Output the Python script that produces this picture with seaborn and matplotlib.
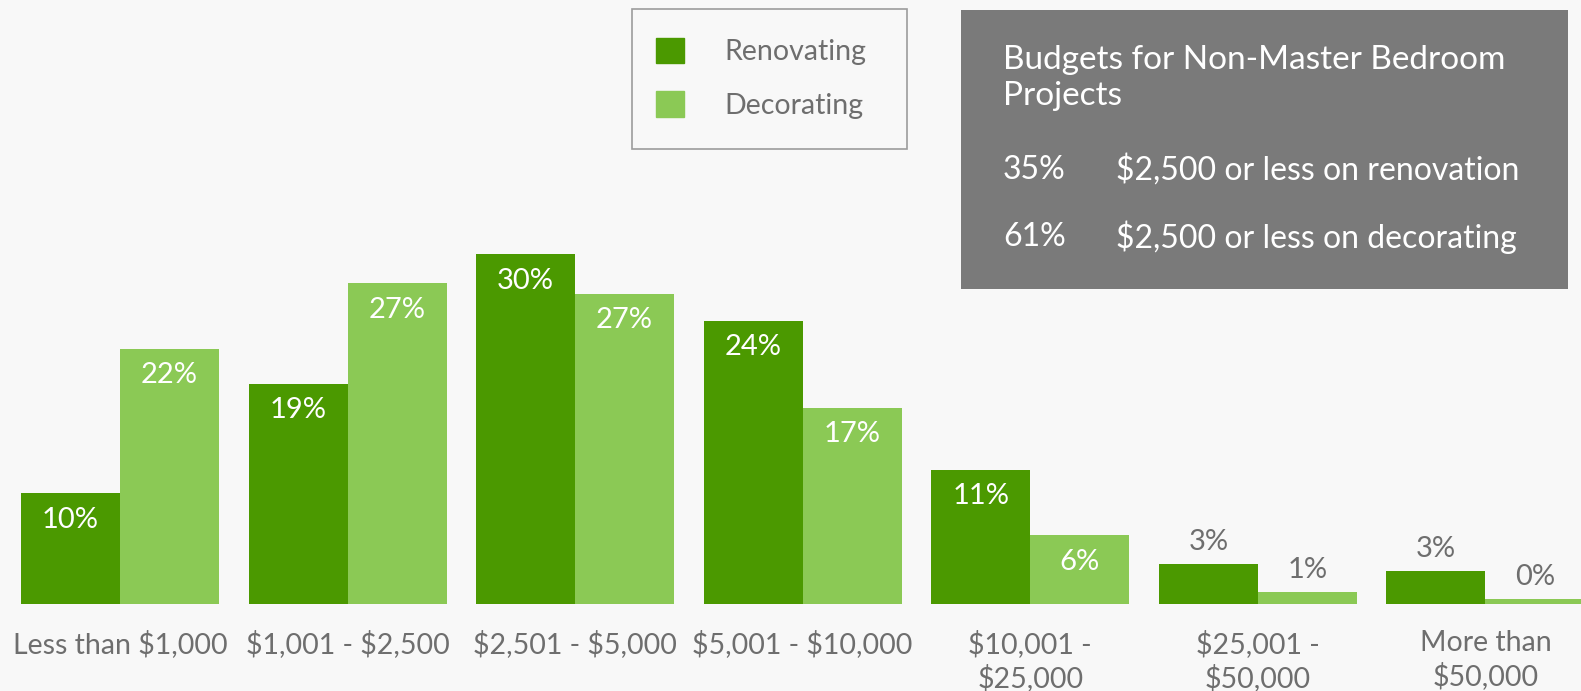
import matplotlib
matplotlib.use("Agg")
import matplotlib.pyplot as plt
import matplotlib.patches as mpatches
import seaborn as sns
import pandas as pd

categories = ["Less than $1,000", "$1,001 - $2,500", "$2,501 - $5,000", "$5,001 - $10,000",
              "$10,001 -\n$25,000", "$25,001 -\n$50,000", "More than\n$50,000"]
renovating = [9.5, 18.9, 30.0, 24.3, 11.5, 3.4, 2.8]
decorating = [21.9, 27.5, 26.6, 16.8, 5.9, 1.0, 0.4]
renovating_labels = ["10%", "19%", "30%", "24%", "11%", "3%", "3%"]
decorating_labels = ["22%", "27%", "27%", "17%", "6%", "1%", "0%"]
series = ["Renovating", "Decorating"]
colors = {"Renovating": "#4b9900", "Decorating": "#8bc955"}

box_title = "Budgets for Non-Master Bedroom\nProjects"
box_rows = [("35%", "$2,500 or less on renovation"),
            ("61%", "$2,500 or less on decorating")]

df = pd.DataFrame({
    "Budget": categories * 2,
    "Share": renovating + decorating,
    "Type": ["Renovating"] * len(categories) + ["Decorating"] * len(categories),
})

bg = "#f8f8f8"
grey_text = "#6e6e6e"

sns.set_theme(style="white")
plt.rcParams["font.family"] = ["Lato", "DejaVu Sans"]
plt.rcParams["text.parse_math"] = False

W, H = 1581, 691
fig = plt.figure(figsize=(W / 100, H / 100), dpi=100, facecolor=bg)
ax = fig.add_axes([0, 87 / H, 1, 604 / H])
ax.set_facecolor(bg)

sns.barplot(data=df, x="Budget", y="Share", hue="Type", order=categories,
            hue_order=series, palette=colors, width=0.87, saturation=1,
            linewidth=0, ax=ax, legend=False)

ax.set_xlim(-0.527, 6.42)
ax.set_ylim(0, 51.8)
for s in ax.spines.values():
    s.set_visible(False)
ax.set_yticks([])
ax.set_xlabel("")
ax.set_ylabel("")
ax.tick_params(axis="x", length=0, pad=18.5, labelsize=20.5, labelcolor=grey_text)
for t in ax.get_xticklabels():
    t.set_linespacing(1.27)

# value labels
for container, labels in zip(ax.containers, [renovating_labels, decorating_labels]):
    for bar, lab in zip(container, labels):
        cx = bar.get_x() + bar.get_width() / 2
        h = bar.get_height()
        if h >= 5:
            ax.annotate(lab, (cx, h), xytext=(0, -19), textcoords="offset points",
                        ha="center", va="center", color="white", fontsize=21)
        else:
            ax.annotate(lab, (cx, h), xytext=(0, 16), textcoords="offset points",
                        ha="center", va="center", color=grey_text, fontsize=21)

# legend with its own frame
fig.patches.append(mpatches.Rectangle((632 / W, 1 - 149 / H), 275 / W, 140 / H,
                                      transform=fig.transFigure, facecolor="none",
                                      edgecolor="#9c9c9c", linewidth=1.2))
handles = [mpatches.Patch(color=colors[s], label=s) for s in series]
fig.legend(handles=handles, loc="upper left", bbox_to_anchor=(656 / W, 1 - 38 / H),
           frameon=False, fontsize=20.5, labelcolor=grey_text, borderpad=0,
           borderaxespad=0, handlelength=1.0, handleheight=1.0,
           handletextpad=1.4, labelspacing=0.9)

# info box
fig.patches.append(mpatches.Rectangle((961 / W, 1 - 289 / H), 607 / W, 279 / H,
                                      transform=fig.transFigure, facecolor="#7a7a7a",
                                      edgecolor="none"))
fig.text(1003 / W, 1 - 78 / H, box_title, color="white", fontsize=24,
         va="center", ha="left", linespacing=1.25)
for i, (pct, txt) in enumerate(box_rows):
    y = 1 - (170 + 67 * i) / H
    fig.text(1003 / W, y, pct, color="white", fontsize=23, va="center", ha="left")
    fig.text(1116 / W, y, txt, color="white", fontsize=23, va="center", ha="left")

fig.savefig("out.png", dpi=100, facecolor=bg)
